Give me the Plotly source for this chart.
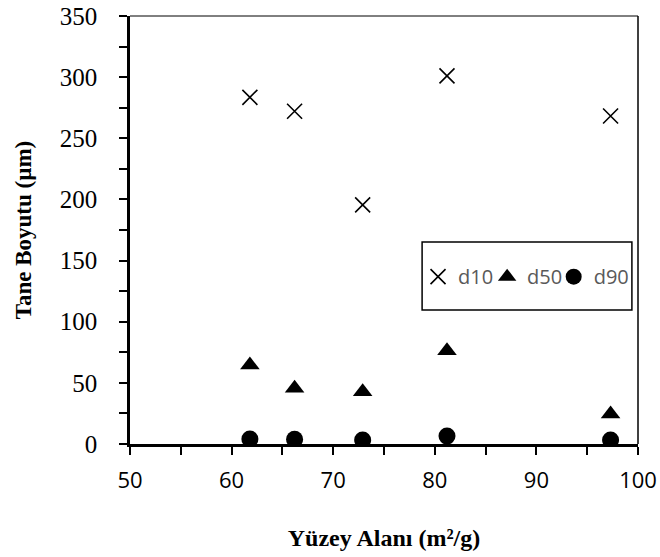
import plotly.graph_objects as go

x_vals = [61.8, 66.2, 72.9, 81.2, 97.3]
d10 = [283.5, 272.1, 195.5, 301.0, 268.2]
d50 = [64.6, 45.5, 42.8, 76.3, 24.5]
d90 = [4.1, 3.8, 3.3, 6.5, 3.3]
series_names = ["d10", "d50", "d90"]

fig = go.Figure()
fig.add_trace(go.Scatter(x=x_vals, y=d10, mode="markers", name=series_names[0], legend="legend",
                         marker=dict(symbol="x-thin", size=15, color="black",
                                     line=dict(width=1.6, color="black"))))
fig.add_trace(go.Scatter(x=x_vals, y=d50, mode="markers", name=series_names[1], legend="legend2",
                         marker=dict(symbol="triangle-up", size=17, color="black")))
fig.add_trace(go.Scatter(x=x_vals, y=d90, mode="markers", name=series_names[2], legend="legend3",
                         marker=dict(symbol="circle", size=17, color="black")))

legend_style = dict(orientation="h", xanchor="left", y=0.391, yanchor="middle",
                    borderwidth=0, bgcolor="rgba(0,0,0,0)",
                    font=dict(family="Open Sans", size=20, color="#595959"))

fig.update_layout(
    template="none",
    width=660, height=557,
    margin=dict(l=130, r=22, t=16, b=113),
    plot_bgcolor="white", paper_bgcolor="white",
    showlegend=True,
    legend=dict(x=0.567, **legend_style),
    legend2=dict(x=0.703, **legend_style),
    legend3=dict(x=0.834, **legend_style),
    xaxis=dict(range=[50, 100], dtick=10, tick0=50, showgrid=False, zeroline=False,
               automargin=False,
               showline=True, linecolor="black", linewidth=2.5,
               ticks="outside", ticklen=8, tickwidth=1.5, tickcolor="black",
               ticklabelstandoff=7,
               minor=dict(dtick=5, ticks="outside", ticklen=8, tickwidth=1.5, tickcolor="black"),
               tickfont=dict(family="Open Sans", size=22, color="black"),
               title=dict(text="<b>Yüzey Alanı (m²/g)</b>", standoff=37,
                          font=dict(family="Liberation Serif", size=24, color="black"))),
    yaxis=dict(range=[0, 350], dtick=50, showgrid=False, zeroline=False,
               automargin=False,
               showline=True, linecolor="black", linewidth=2.5,
               ticks="outside", ticklen=8, tickwidth=1.5, tickcolor="black",
               ticklabelstandoff=17,
               minor=dict(dtick=25, ticks="outside", ticklen=8, tickwidth=1.5, tickcolor="black"),
               tickfont=dict(family="Liberation Serif", size=25, color="black"),
               title=dict(text="<b>Tane Boyutu (µm)</b>", standoff=22,
                          font=dict(family="Liberation Serif", size=23, color="black"))),
    shapes=[
        dict(type="line", xref="paper", yref="paper", x0=0, x1=1, y0=1, y1=1,
             line=dict(color="black", width=1)),
        dict(type="line", xref="paper", yref="paper", x0=1, x1=1, y0=0, y1=1,
             line=dict(color="black", width=1.5)),
        dict(type="rect", xref="paper", yref="paper", x0=0.575, x1=0.988, y0=0.313, y1=0.472,
             line=dict(color="black", width=1.5)),
    ],
)

fig.write_html("out.html", config={"displayModeBar": False},
               post_script="document.body.style.margin='0px';")
